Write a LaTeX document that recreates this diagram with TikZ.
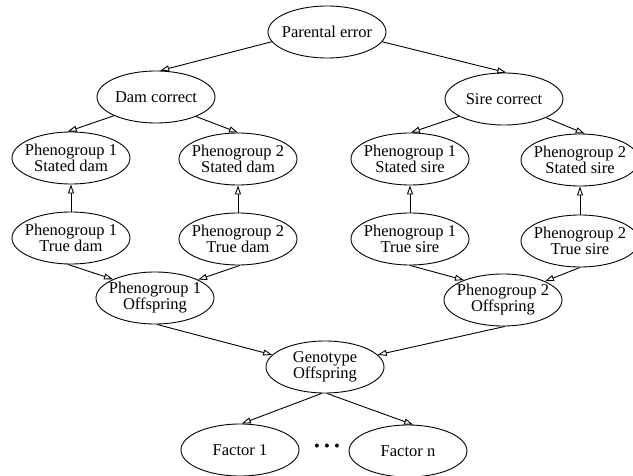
\documentclass[tikz,border=0pt]{standalone}
\usepackage{fontspec}
\setmainfont{Liberation Serif}
\usetikzlibrary{shapes.geometric,arrows.meta}
\tikzset{
  nd/.style={draw, ellipse, line width=0.9pt, minimum width=118pt, minimum height=52pt, inner sep=0pt,
    label={[lbl]center:#1}},
  lbl/.style={align=center, inner sep=0pt, font=\fontsize{16.5}{16}\selectfont},
  edge/.style={line width=0.9pt, -{Triangle[open, length=9pt, width=6pt, line width=0.9pt]}}
}
\begin{document}
\begin{tikzpicture}[x=1pt, y=-1pt]
\useasboundingbox (0,0) rectangle (633,476);
\clip (0,0) rectangle (633,476);
\node[nd={Parental error}] (par) at (327,32) {};
\node[nd={Dam correct}] (damc) at (156,97) {};
\node[nd={Sire correct}] (sirec) at (504,99) {};
\node[nd={Phenogroup 1\\Stated dam}] (sd1) at (71,158) {};
\node[nd={Phenogroup 2\\Stated dam}] (sd2) at (238,159) {};
\node[nd={Phenogroup 1\\Stated sire}] (ss1) at (410,159) {};
\node[nd={Phenogroup 2\\Stated sire}] (ss2) at (580,160) {};
\node[nd={Phenogroup 1\\True dam}] (td1) at (71,238) {};
\node[nd={Phenogroup 2\\True dam}] (td2) at (238,239) {};
\node[nd={Phenogroup 1\\True sire}] (ts1) at (410,239) {};
\node[nd={Phenogroup 2\\True sire}] (ts2) at (580,241) {};
\node[nd={Phenogroup 1\\Offspring}] (off1) at (155,298) {};
\node[nd={Phenogroup 2\\Offspring}] (off2) at (503,300) {};
\node[nd={Genotype\\Offspring}] (gen) at (325,367) {};
\node[nd={Factor 1}] (f1) at (240,450) {};
\node[nd={Factor n}] (fn) at (408,451) {};
\node[inner sep=0pt, font=\fontsize{16.5}{16}\selectfont] (dots) at (327,448) {\textbullet{} \textbullet{} \textbullet};

\draw[edge] (par.190) -- (damc.81);
\draw[edge] (par.350) -- (sirec.85);
\draw[edge] (damc.204) -- (sd1.97);
\draw[edge] (damc.334) -- (sd2.90);
\draw[edge] (sirec.201) -- (ss1.88);
\draw[edge] (sirec.336) -- (ss2.80);
\draw[edge] (td1.north) -- (sd1.south);
\draw[edge] (td2.north) -- (sd2.south);
\draw[edge] (ts1.north) -- (ss1.south);
\draw[edge] (ts2.north) -- (ss2.south);
\draw[edge] (td1.263) -- (off1.156);
\draw[edge] (td2.274) -- (off1.23);
\draw[edge] (ts1.270) -- (off2.153);
\draw[edge] (ts2.270) -- (off2.24);
\draw[edge] (off1.274) -- (gen.167);
\draw[edge] (off2.274) -- (gen.13);
\draw[edge] (gen.263) -- (f1.86);
\draw[edge] (gen.274) -- (fn.79);
\end{tikzpicture}
\end{document}
